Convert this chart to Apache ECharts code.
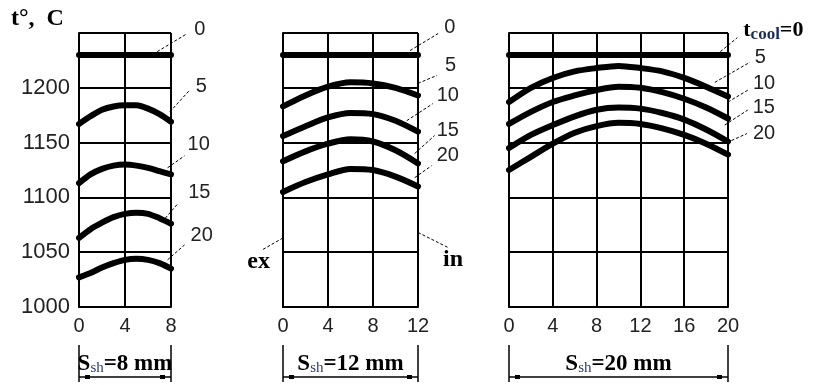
<!DOCTYPE html>
<html><head><meta charset="utf-8">
<script src="https://cdn.jsdelivr.net/npm/echarts@6/dist/echarts.min.js"></script>
<style>html,body{margin:0;padding:0;background:#fff}#c{width:819px;height:385px}</style>
</head><body><div id="c"></div>
<script>
// ---- data ----
const coolTimes = ['0', '5', '10', '15', '20'];
const thickness = [8, 12, 20];
const yTicks = [1000, 1050, 1100, 1150, 1200];

const x8 = [0, 1, 2, 3, 4, 5, 6, 7, 8];
const s8_0  = [1230, 1230, 1230, 1230, 1230, 1230, 1230, 1230, 1230];
const s8_5  = [1167, 1174, 1180, 1183, 1184, 1184, 1181, 1176, 1169];
const s8_10 = [1113, 1121, 1126, 1129, 1130, 1129, 1127, 1124, 1121];
const s8_15 = [1063, 1071, 1077, 1082, 1085, 1086, 1085, 1081, 1076];
const s8_20 = [1027, 1031, 1036, 1040, 1043, 1044, 1043, 1040, 1035];

const x12 = [0, 2, 4, 6, 8, 10, 12];
const s12_0  = [1230, 1230, 1230, 1230, 1230, 1230, 1230];
const s12_5  = [1183, 1193, 1201, 1205, 1204, 1200, 1193];
const s12_10 = [1156, 1165, 1173, 1177, 1176, 1170, 1160];
const s12_15 = [1133, 1142, 1149, 1153, 1151, 1143, 1131];
const s12_20 = [1105, 1114, 1121, 1126, 1125, 1119, 1110];

const x20 = [0, 2, 4, 6, 8, 10, 12, 14, 16, 18, 20];
const s20_0  = [1230, 1230, 1230, 1230, 1230, 1230, 1230, 1230, 1230, 1230, 1230];
const s20_5  = [1187, 1200, 1209, 1215, 1218, 1220, 1218, 1215, 1209, 1201, 1192];
const s20_10 = [1167, 1178, 1187, 1193, 1198, 1201, 1200, 1196, 1190, 1182, 1172];
const s20_15 = [1145, 1157, 1166, 1174, 1180, 1182, 1181, 1177, 1171, 1162, 1151];
const s20_20 = [1125, 1137, 1149, 1159, 1165, 1168, 1167, 1163, 1157, 1149, 1139];

// ---- build ----
const panels = [
  {xs: x8,  sets: [s8_0, s8_5, s8_10, s8_15, s8_20]},
  {xs: x12, sets: [s12_0, s12_5, s12_10, s12_15, s12_20]},
  {xs: x20, sets: [s20_0, s20_5, s20_10, s20_15, s20_20]}
];
const gridLeft = [79, 283, 509];
const gridWidth = [92, 135, 219];
const numFont = "'Liberation Sans', Arial, sans-serif";
const serif = "'Liberation Serif', 'Times New Roman', serif";

const chart = echarts.init(document.getElementById('c'), null, {renderer: 'canvas'});
const lineStyle = {color: '#000', width: 2};
const option = {
  animation: false,
  backgroundColor: '#fff',
  grid: panels.map((p, i) => ({left: gridLeft[i], width: gridWidth[i], top: 33, height: 274, containLabel: false})),
  xAxis: panels.map((p, i) => ({
    type: 'value', gridIndex: i, min: 0, max: thickness[i], interval: 4,
    axisLine: {show: true, lineStyle}, axisTick: {show: false},
    splitLine: {show: true, lineStyle},
    axisLabel: {show: true, color: '#222', fontFamily: numFont, fontSize: 20, margin: 9}
  })),
  yAxis: panels.map((p, i) => ({
    type: 'value', gridIndex: i, min: 1000, max: 1250, interval: 50,
    axisLine: {show: true, lineStyle}, axisTick: {show: false},
    splitLine: {show: true, lineStyle},
    axisLabel: {show: i === 0, color: '#222', fontFamily: numFont, fontSize: 22, margin: 9,
      formatter: v => yTicks.includes(v) ? String(v) : ''}
  })),
  series: []
};
panels.forEach((p, i) => {
  p.sets.forEach((vals, k) => {
    option.series.push({
      type: 'line', name: coolTimes[k], xAxisIndex: i, yAxisIndex: i,
      data: p.xs.map((x, j) => [x, vals[j]]),
      smooth: k === 0 ? false : 0.3, symbol: 'none',
      lineStyle: {color: '#000', width: 6, cap: 'round'}
    });
  });
});
chart.setOption(option);

// ---- annotations ----
// leader: [grid, x, T, dx, dy, text, labelDx, labelDy]
const leaders = [
  [0, 6.8, 1233, 30, -18, '0', 7, -4],
  [0, 7.9, 1178, 20, -22, '5', 6, -3],
  [0, 7.7, 1127, 17, -12, '10', 3, -11],
  [0, 7.5, 1081, 13, -15, '15', 10, -11],
  [0, 7.7, 1043, 17, -15, '20', 6, -9],
  [1, 11.3, 1234, 28, -17, '0', 6, -6],
  [1, 12, 1204, 19, -8, '5', 8, -10],
  [1, 11.0, 1170, 26, -17, '10', 4, -8],
  [1, 11.7, 1140, 20, -18, '15', 2, -5],
  [1, 11.7, 1118, 17, -12, '20', 5, -10],
  [2, 19.3, 1233, 17, -14, null, 0, 0],
  [2, 18.8, 1205, 35, -20, '5', 5, -5],
  [2, 20, 1187, 20, -12, '10', 5, -7],
  [2, 19.7, 1166, 23, -15, '15', 5, -3],
  [2, 19.9, 1150, 20, -9, '20', 6, 0]
];
const g = [];
const dash = {stroke: '#000', lineWidth: 1, lineDash: [3, 2]};
leaders.forEach(l => {
  const p = chart.convertToPixel({gridIndex: l[0]}, [l[1], l[2]]);
  const ex = p[0] + l[3], ey = p[1] + l[4];
  g.push({type: 'line', shape: {x1: p[0], y1: p[1], x2: ex, y2: ey}, style: dash, z: 10});
  if (l[5] !== null) {
    g.push({type: 'text', x: ex + l[6], y: ey + l[7],
      style: {text: l[5], fill: '#222', font: "20px " + numFont, textAlign: 'left', textVerticalAlign: 'middle'}, z: 10});
  } else {
    g.push({type: 'text', x: ex + 36, y: ey - 7,
      style: {text: '{b|t}{s|cool}{b|=0}', textAlign: 'center', textVerticalAlign: 'middle',
        rich: {
          b: {font: "bold 22px " + serif, fill: '#000', lineHeight: 24, verticalAlign: 'middle'},
          s: {font: "bold 17px " + serif, fill: '#1a2a5a', lineHeight: 20, verticalAlign: 'bottom'}
        }}, z: 10});
  }
});

// ex / in
const pe = chart.convertToPixel({gridIndex: 1}, [0, 1063]);
g.push({type: 'line', shape: {x1: pe[0], y1: pe[1], x2: pe[0] - 21, y2: pe[1] + 12}, style: dash, z: 10});
g.push({type: 'text', x: pe[0] - 13, y: pe[1] + 24,
  style: {text: 'ex', font: "bold 24px " + serif, fill: '#000', textAlign: 'right', textVerticalAlign: 'middle'}});
const pi = chart.convertToPixel({gridIndex: 1}, [12, 1068]);
g.push({type: 'line', shape: {x1: pi[0], y1: pi[1], x2: pi[0] + 30, y2: pi[1] + 15}, style: dash, z: 10});
g.push({type: 'text', x: pi[0] + 25, y: pi[1] + 27,
  style: {text: 'in', font: "bold 24px " + serif, fill: '#000', textAlign: 'left', textVerticalAlign: 'middle'}});

// y title
g.push({type: 'text', x: 11, y: 19,
  style: {text: 't°,  C', font: "bold 24px " + serif, fill: '#000', textAlign: 'left', textVerticalAlign: 'middle'}});

// thickness dimension lines
thickness.forEach((s, i) => {
  const a = chart.convertToPixel({gridIndex: i}, [0, 1000]);
  const b = chart.convertToPixel({gridIndex: i}, [s, 1000]);
  const x0 = a[0], x1 = b[0];
  const st = {stroke: '#000', lineWidth: 1.5};
  g.push({type: 'line', shape: {x1: x0, y1: 345, x2: x0, y2: 382}, style: st});
  g.push({type: 'line', shape: {x1: x1, y1: 345, x2: x1, y2: 382}, style: st});
  g.push({type: 'line', shape: {x1: x0, y1: 377, x2: x1, y2: 377}, style: st});
  g.push({type: 'rect', shape: {x: x0 + 6, y: 375, width: 5, height: 4}, style: {fill: '#000'}});
  g.push({type: 'rect', shape: {x: x1 - 11, y: 375, width: 5, height: 4}, style: {fill: '#000'}});
  g.push({type: 'text', x: (x0 + x1) / 2, y: 364,
    style: {text: '{b|S}{s|sh}{b|=' + s + ' mm}', textAlign: 'center', textVerticalAlign: 'middle',
      rich: {
        b: {font: "bold 23px " + serif, fill: '#000', lineHeight: 24, verticalAlign: 'middle'},
        s: {font: "15px " + serif, fill: '#2a3a70', lineHeight: 18, verticalAlign: 'bottom'}
      }}});
});
chart.setOption({graphic: g});
</script>
</body></html>
